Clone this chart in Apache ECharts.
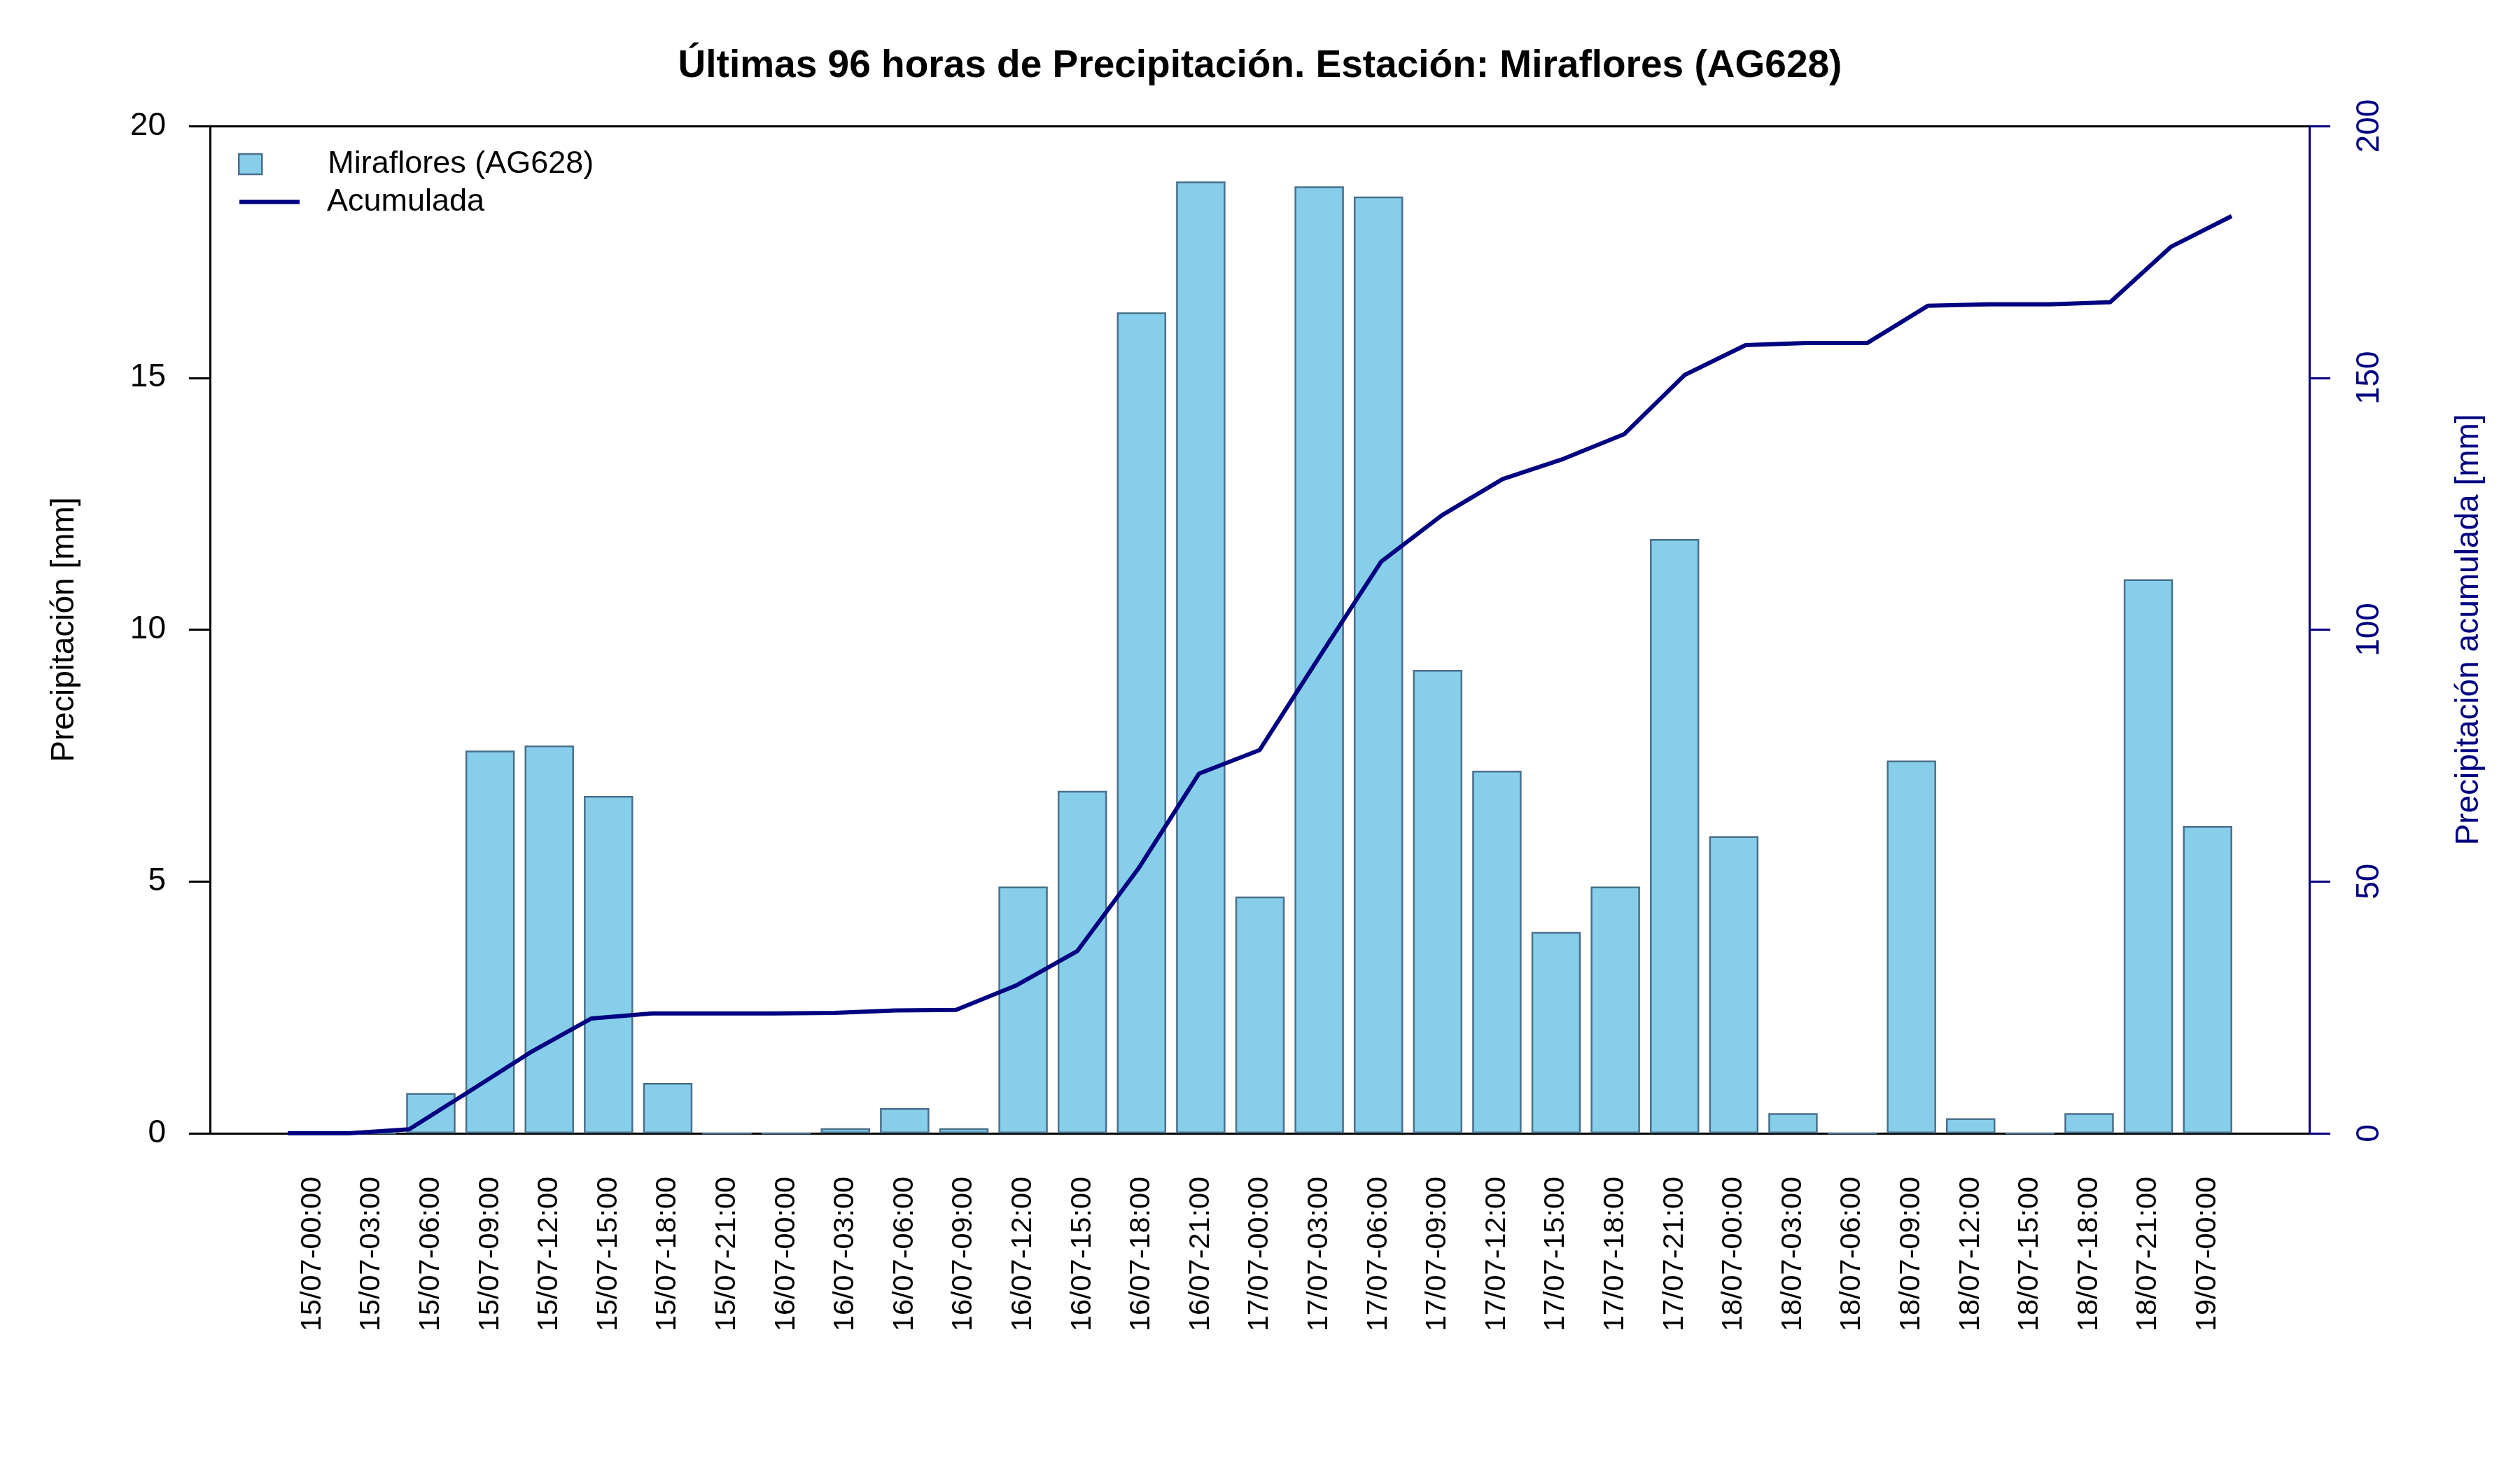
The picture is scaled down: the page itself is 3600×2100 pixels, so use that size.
<!DOCTYPE html>
<html>
<head>
<meta charset="utf-8">
<title>Precipitación Miraflores (AG628)</title>
<script src="https://cdn.jsdelivr.net/npm/echarts@6.0.0/dist/echarts.min.js"></script>
<style>
  html, body { margin: 0; padding: 0; background: #fff; }
  #chart { width: 3600px; height: 2100px; }
</style>
</head>
<body>
<div id="chart"></div>
<script>
// categorias cada 3 horas
var horas = [
  '15/07-00:00', '15/07-03:00', '15/07-06:00', '15/07-09:00', '15/07-12:00', '15/07-15:00', '15/07-18:00', '15/07-21:00',
  '16/07-00:00', '16/07-03:00', '16/07-06:00', '16/07-09:00', '16/07-12:00', '16/07-15:00', '16/07-18:00', '16/07-21:00',
  '17/07-00:00', '17/07-03:00', '17/07-06:00', '17/07-09:00', '17/07-12:00', '17/07-15:00', '17/07-18:00', '17/07-21:00',
  '18/07-00:00', '18/07-03:00', '18/07-06:00', '18/07-09:00', '18/07-12:00', '18/07-15:00', '18/07-18:00', '18/07-21:00',
  '19/07-00:00'
];

// precipitacion por intervalo [mm]
var precipitacion = [
  0, 0, 0.8, 7.6, 7.7, 6.7, 1.0, 0,
  0, 0.1, 0.5, 0.1, 4.9, 6.8, 16.3, 18.9,
  4.7, 18.8, 18.6, 9.2, 7.2, 4.0, 4.9, 11.8,
  5.9, 0.4, 0, 7.4, 0.3, 0, 0.4, 11.0,
  6.1
];

// precipitacion acumulada [mm]
var acumulada = [
  0, 0, 0.8, 8.4, 16.1, 22.8, 23.8, 23.8,
  23.8, 23.9, 24.4, 24.5, 29.4, 36.2, 52.5, 71.4,
  76.1, 94.9, 113.5, 122.7, 129.9, 133.9, 138.8, 150.6,
  156.5, 156.9, 156.9, 164.3, 164.6, 164.6, 165.0, 176.0,
  182.1
];

var ticksIzq = [0, 20, 5];     // min, max, intervalo
var ticksDer = [0, 200, 50];

var fuente = 'Liberation Sans, Arial, sans-serif';
var azul = '#000080';

var myChart = echarts.init(document.getElementById('chart'));

var option = {
  backgroundColor: '#fff',
  animation: false,
  textStyle: { fontFamily: fuente },
  title: {
    text: 'Últimas 96 horas de Precipitación. Estación: Miraflores (AG628)',
    left: 'center',
    top: 62,
    textStyle: { fontFamily: fuente, fontSize: 55, fontWeight: 'bold', color: '#000' }
  },
  legend: [
    {
      left: 340, top: 212, padding: 0,
      itemWidth: 33, itemHeight: 29,
      selectedMode: false,
      data: [{ name: 'Miraflores (AG628)', icon: 'rect' }],
      itemStyle: { color: '#87CEEB', borderColor: '#4a708b', borderWidth: 2.5 },
      textStyle: { fontFamily: fuente, fontSize: 45, color: '#000', padding: [0, 0, 0, 89] }
    },
    {
      left: 342, top: 266, padding: 0,
      itemWidth: 86, itemHeight: 6,
      selectedMode: false,
      data: [{ name: 'Acumulada', icon: 'rect' }],
      itemStyle: { color: azul, borderWidth: 0 },
      textStyle: { fontFamily: fuente, fontSize: 45, color: '#000', padding: [0, 0, 0, 34] }
    }
  ],
  grid: [
    { left: 300, right: 301, top: 180, bottom: 481 },   // marco y ejes
    { left: 404, right: 404, top: 180, bottom: 481 },   // barras
    { left: 411, right: 412, top: 180, bottom: 481 }    // acumulada
  ],
  xAxis: [
    {
      gridIndex: 0, type: 'value', position: 'bottom', min: 0, max: 1,
      axisLine: { show: true, onZero: false, lineStyle: { color: '#000', width: 3 } },
      axisTick: { show: false }, axisLabel: { show: false }, splitLine: { show: false }
    },
    {
      gridIndex: 0, type: 'value', position: 'top', min: 0, max: 1,
      axisLine: { show: true, onZero: false, lineStyle: { color: '#000', width: 3 } },
      axisTick: { show: false }, axisLabel: { show: false }, splitLine: { show: false }
    },
    {
      gridIndex: 1, type: 'category', data: horas,
      axisLine: { show: false, onZero: false }, axisTick: { show: false },
      axisLabel: {
        interval: 0, rotate: 90, margin: 62,
        fontFamily: fuente, fontSize: 41.4, color: '#000'
      }
    },
    {
      gridIndex: 2, type: 'category', data: horas, boundaryGap: false, show: false
    }
  ],
  yAxis: [
    {
      gridIndex: 0, type: 'value', position: 'left',
      min: ticksIzq[0], max: ticksIzq[1], interval: ticksIzq[2],
      name: 'Precipitación [mm]', nameLocation: 'middle', nameRotate: 90, nameGap: 185,
      nameTextStyle: { fontFamily: fuente, fontSize: 46, color: '#000' },
      axisLine: { show: true, onZero: false, lineStyle: { color: '#000', width: 3 } },
      axisTick: { show: true, length: 30, lineStyle: { color: '#000', width: 3 } },
      axisLabel: { margin: 63, fontFamily: fuente, fontSize: 46, color: '#000' },
      splitLine: { show: false }
    },
    {
      gridIndex: 0, type: 'value', position: 'right',
      min: ticksDer[0], max: ticksDer[1], interval: ticksDer[2],
      name: 'Precipitación acumulada [mm]', nameLocation: 'middle', nameRotate: 90, nameGap: 205,
      nameTextStyle: { fontFamily: fuente, fontSize: 46, color: azul },
      axisLine: { show: true, onZero: false, lineStyle: { color: azul, width: 3 } },
      axisTick: { show: true, length: 30, lineStyle: { color: azul, width: 3 } },
      axisLabel: { rotate: 90, margin: 63, fontFamily: fuente, fontSize: 46, color: azul },
      splitLine: { show: false }
    },
    {
      gridIndex: 1, type: 'value', min: ticksIzq[0], max: ticksIzq[1], show: false
    },
    {
      gridIndex: 2, type: 'value', min: ticksDer[0], max: ticksDer[1], show: false
    }
  ],
  series: [
    {
      name: 'Miraflores (AG628)',
      type: 'bar',
      xAxisIndex: 2, yAxisIndex: 2,
      barCategoryGap: '16.7%',
      data: precipitacion,
      itemStyle: { color: '#87CEEB', borderColor: '#4a708b', borderWidth: 2.5 }
    },
    {
      name: 'Acumulada',
      type: 'line',
      xAxisIndex: 3, yAxisIndex: 3,
      data: acumulada,
      showSymbol: false,
      symbol: 'none',
      z: 5,
      itemStyle: { color: azul },
      lineStyle: { color: azul, width: 6 }
    }
  ]
};

myChart.setOption(option, true);
</script>
</body>
</html>
